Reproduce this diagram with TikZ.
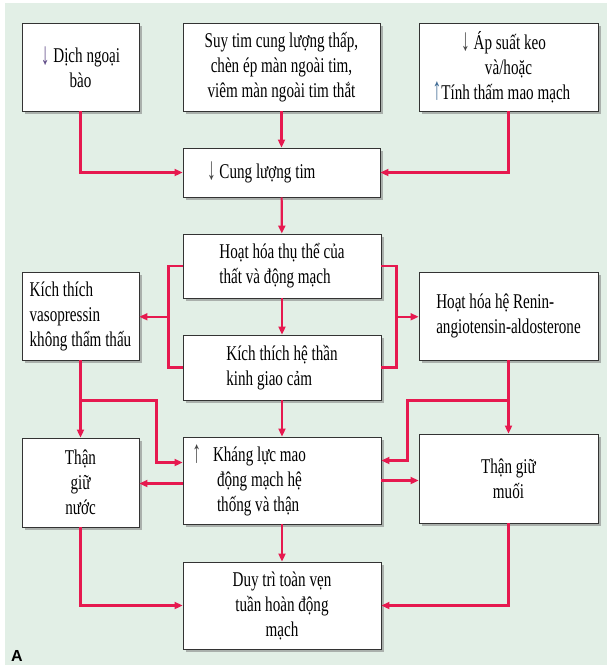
\documentclass[tikz,border=0pt]{standalone}
\usepackage{fontspec}
\setmainfont{Liberation Serif}[FakeStretch=0.72]
\setsansfont{Liberation Sans}
\usetikzlibrary{arrows.meta,calc,shadows}

\definecolor{bgmint}{HTML}{E2EFE6}
\definecolor{flowred}{HTML}{E6194F}
\definecolor{arrowpurple}{HTML}{5E4A86}
\definecolor{arrowblue}{HTML}{3E6A94}

% tall thin arrows used inside the labels
\newcommand{\dnarr}[1][black!75]{\textcolor{#1}{\raisebox{-1.5pt}{\scalebox{1.15}[1.5]{↓}}}}
\newcommand{\uparr}[1][black!75]{\textcolor{#1}{\raisebox{-0.5pt}{\scalebox{1.15}[1.5]{↑}}}}

\begin{document}
\begin{tikzpicture}[x=1pt,y=-1pt,
    every node/.style={font=\fontsize{21}{25}\selectfont,align=center},
    box/.style={draw=black!80,line width=0.9pt,fill=white,inner sep=0pt,
      drop shadow={shadow xshift=2.5pt,shadow yshift=-2.5pt,fill=black!55}},
    arrow/.style={-{Triangle[length=8pt,width=7pt]},line width=2.2pt,draw=flowred},
    link/.style={line width=2.2pt,draw=flowred,line join=miter}
]
\useasboundingbox (0,0) rectangle (607,665);
\fill[bgmint] (5,3) rectangle (607,665);

% top row
\node[box,minimum width=117pt,minimum height=88pt] (dich) at (80.5,67)
  {\dnarr[arrowpurple] Dịch ngoại\\bào};
\node[box,minimum width=197pt,minimum height=88pt] (suy) at (281.5,67)
  {Suy tim cung lượng thấp,\\chèn ép màn ngoài tim,\\viêm màn ngoài tim thắt};
\node[box,minimum width=179pt,minimum height=88pt] (apsuat) at (508.5,67)
  {\dnarr\ Áp suất keo\hspace*{10pt}\\và/hoặc\\\uparr[arrowblue]Tính thấm mao mạch\hspace*{14pt}};
\node[box,minimum width=197pt,minimum height=49pt,text width=149pt,align=flush left] (cung) at (281.5,172.5)
  {\dnarr\ Cung lượng tim};

% middle
\node[box,minimum width=198pt,minimum height=64pt,align=left] (hoathoa) at (282,266)
  {Hoạt hóa thụ thể của\\thất và động mạch};
\node[box,minimum width=198pt,minimum height=65pt,align=left] (giaocam) at (282,367.5)
  {Kích thích hệ thần\\kinh giao cảm};
\node[box,minimum width=117pt,minimum height=88pt,align=left] (vaso) at (80.5,316)
  {Kích thích\\vasopressin\\không thẩm thấu};
\node[box,minimum width=179pt,minimum height=88pt,align=left] (renin) at (508.5,316)
  {Hoạt hóa hệ Renin-\\angiotensin-aldosterone};

% bottom
\node[box,minimum width=117pt,minimum height=89pt] (nuoc) at (80.5,482.5) {Thận\\giữ\\nước};
\node[box,minimum width=198pt,minimum height=87pt,text width=138pt,align=flush left] (khang) at (282,480.5)
  {\llap{\uparr\hspace{12pt}}Kháng lực mao\\\hspace*{4pt}động mạch hệ\\\hspace*{4pt}thống và thận};
\node[box,minimum width=179pt,minimum height=89pt] (muoi) at (508.5,478.5) {Thận giữ\\muối};
\node[box,minimum width=198pt,minimum height=87pt] (duytri) at (282,605.5)
  {Duy trì toàn vẹn\\tuần hoàn động\\mạch};

\node[font=\sffamily\bfseries\fontsize{16}{16}\selectfont] (panel) at (17,656) {A};

\draw[arrow] (dich) |- (cung);
\draw[arrow] (suy) -- (cung);
\draw[arrow] (apsuat) |- (cung);
\draw[arrow] (cung) -- (hoathoa);
\draw[arrow] (hoathoa) -- (giaocam);

% brackets on both sides of the two receptor boxes
\draw[link] (hoathoa.west) -- ++(-14,0) |- (giaocam.west);
\draw[link] (hoathoa.east) -- ++(15,0) |- (giaocam.east);
\coordinate (lbr) at ($(hoathoa.west)!0.5!(giaocam.west)+(-14,0)$);
\coordinate (rbr) at ($(hoathoa.east)!0.5!(giaocam.east)+(15,0)$);
\draw[arrow] (lbr) -- (lbr -| vaso.east);
\draw[arrow] (rbr) -- (rbr -| renin.west);

\draw[arrow] (giaocam) -- (khang);
\coordinate (jl) at ($(vaso.south)+(0,40)$);
\coordinate (jr) at ($(renin.south)+(0,40)$);
\coordinate (kin) at ($(khang.west)+(0,-18)$);
\coordinate (kout) at ($(khang.east)+(0,-20)$);
\draw[arrow] (vaso) -- (nuoc);
\draw[arrow] (renin) -- (muoi);
\draw[arrow] (jl) -| ($(kin)+(-26,0)$) -- (kin);
\draw[arrow] (jr) -| ($(kout)+(26,0)$) -- (kout);

\draw[arrow] ($(khang.west)+(0,3)$) -- ($(khang.west -| nuoc.east)+(0,3)$);
\draw[arrow] (khang.east) -- (khang.east -| muoi.west);
\draw[arrow] (khang) -- (duytri);
\draw[arrow] (nuoc) |- (duytri);
\draw[arrow] (muoi) |- (duytri);
\end{tikzpicture}
\end{document}
